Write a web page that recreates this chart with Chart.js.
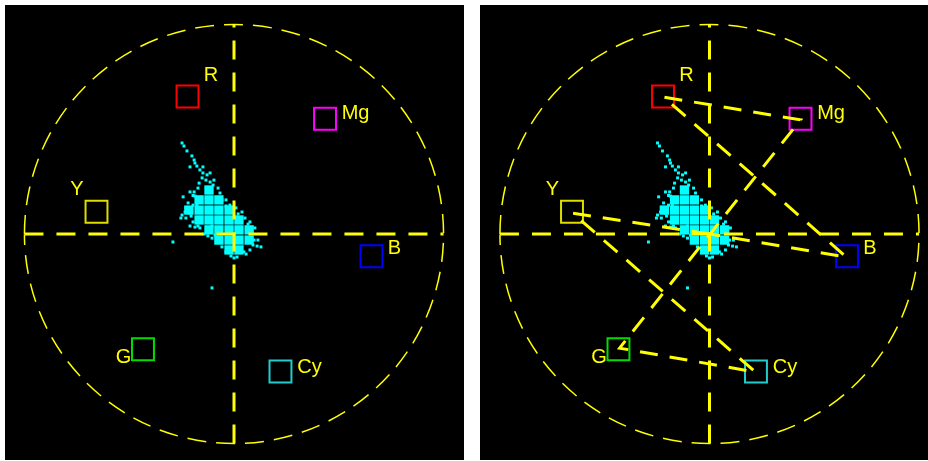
<!DOCTYPE html>
<html>
<head>
<meta charset="utf-8">
<script src="https://cdn.jsdelivr.net/npm/chart.js@4.4.1/dist/chart.umd.min.js"></script>
<style>
    html, body { margin: 0; padding: 0; background: #fff; }
    .panel { position: absolute; top: 5px; height: 455px; background: #000; }
    #left { left: 5px; width: 459px; }
    #right { left: 480px; width: 448px; }
</style>
</head>
<body>
<div class="panel" id="left"><canvas id="scopeA"></canvas></div>
<div class="panel" id="right"><canvas id="scopeB"></canvas></div>
<script>
// colour targets (Cb, Cr)
const targetNames = ["R", "Mg", "B", "Cy", "G", "Y"];
const targetCb = [-0.169, 0.331, 0.5, 0.169, -0.331, -0.5];
const targetCr = [0.5, 0.419, -0.081, -0.5, -0.419, 0.081];

// colour bar trace: W -> Y -> Cy -> G -> Mg -> R -> B -> Bk
const traceNames = ["W", "Y", "Cy", "G", "Mg", "R", "B", "Bk"];
const traceCb = [0, -0.498, 0.167, -0.327, 0.331, -0.167, 0.498, 0];
const traceCr = [0, 0.076, -0.502, -0.415, 0.415, 0.498, -0.084, 0];

// dense part of the pixel cloud
const cellCb = [-0.091, -0.127, -0.091, -0.055, -0.164, -0.127, -0.091, -0.055, -0.018,
    -0.127, -0.091, -0.055, -0.018, 0.018,
    -0.091, -0.055, -0.018, 0.018, 0.055,
    -0.055, -0.018, 0.018, 0.055,
    -0.018, 0.018];
const cellCr = [0.160, 0.124, 0.124, 0.124, 0.087, 0.087, 0.087, 0.087, 0.087,
    0.051, 0.051, 0.051, 0.051, 0.051,
    0.015, 0.015, 0.015, 0.015, 0.015,
    -0.022, -0.022, -0.022, -0.022,
    -0.058, -0.058];

// loose pixels around it
const dotCb = [-0.189, -0.182, -0.171, -0.153, -0.145, -0.142, -0.135, -0.160, -0.124, -0.113,
    -0.113, -0.098, -0.087, -0.116, -0.102, -0.087, -0.127, -0.076,
    -0.185, -0.160, -0.145, -0.167, -0.175, -0.189, -0.193, -0.178, -0.160, -0.142, -0.124, -0.222,
    -0.051, -0.044, -0.029, -0.007, 0.015, 0.040, 0.051, 0.065, 0.073, 0.084, 0.098, 0.058,
    0, -0.011, 0.011, -0.029, 0.036, -0.080, -0.069, -0.080,
    -0.156, -0.135, -0.135, -0.149,
    -0.149, -0.160, -0.175, -0.149, -0.131, -0.109, -0.095, -0.080,
    -0.029, -0.015, 0.007, 0.029, 0.058, 0.076, 0.069, 0.044, -0.044,
    -0.058, -0.131, -0.142, -0.073, 0.087];
const dotCr = [0.331, 0.320, 0.302, 0.284, 0.269, 0.258, 0.247, 0.244, 0.233, 0.244,
    0.222, 0.215, 0.222, 0.204, 0.196, 0.189, 0.185, 0.178,
    0.135, 0.153, 0.153, 0.113, 0.095, 0.069, 0.058, 0.080, 0.029, 0.025, 0.022, -0.029,
    0.149, 0.124, 0.102, 0.080, 0.073, 0.058, 0.036, 0.007, -0.022, -0.044, -0.047, -0.058,
    -0.087, -0.080, -0.084, -0.065, -0.065, -0.196, -0.004, 0.029,
    0.065, 0.124, 0.107, 0.140,
    0.105, 0.076, 0.058, 0.044, 0.029, 0, -0.007, -0.015,
    0.124, 0.105, 0.095, 0.080, 0.044, 0.022, -0.040, -0.073, -0.047,
    0.167, 0.167, 0.138, 0.196, -0.022];

const GRAT_R = 0.762;        // graticule circle radius
const PX_PER_UNIT = 275;
const YELLOW = "#ffff00";
const CYAN = "#00ffff";
const boxColors = ["#ff0000", "#ff00ff", "#0000ff", "#22cccc", "#00dd00", "#dddd00"];
// label position relative to its box (px), baseline
const labelOffsets = [[23.5, -16], [30.5, 0], [23, -2], [29, 1], [-19.5, 14], [-19.5, -17]];

function toPoints(xs, ys) {
    return xs.map((x, i) => ({ x: x, y: ys[i] }));
}

const scopePlugin = {
    id: "scope",
    afterDatasetsDraw(chart) {
        const ctx = chart.ctx;
        const xs = chart.scales.x, ys = chart.scales.y;
        const cx = xs.getPixelForValue(0), cy = ys.getPixelForValue(0);
        const r = xs.getPixelForValue(GRAT_R) - cx;

        ctx.save();
        ctx.strokeStyle = YELLOW;

        // dashed circle
        ctx.lineWidth = 1.5;
        ctx.setLineDash([19, 10]);
        ctx.beginPath();
        ctx.arc(cx, cy, r, Math.PI, 3 * Math.PI);
        ctx.stroke();

        // cross
        ctx.lineWidth = 3;
        ctx.setLineDash([19, 13]);
        ctx.beginPath();
        ctx.moveTo(cx - r, cy);
        ctx.lineTo(cx + r, cy);
        ctx.stroke();
        ctx.beginPath();
        ctx.moveTo(cx, cy + r);
        ctx.lineTo(cx, cy - r);
        ctx.stroke();

        // target labels
        ctx.setLineDash([]);
        ctx.fillStyle = YELLOW;
        ctx.font = '20px "Liberation Sans", Arial, sans-serif';
        ctx.textAlign = "center";
        ctx.textBaseline = "alphabetic";
        targetNames.forEach((name, i) => {
            const px = xs.getPixelForValue(targetCb[i]) + labelOffsets[i][0];
            const py = ys.getPixelForValue(targetCr[i]) + labelOffsets[i][1];
            ctx.fillText(name, px, py);
        });
        ctx.restore();
    }
};

function makeScope(selector, width, height, centerX, centerY, withTrace) {
    const datasets = [];

    if (withTrace) {
        datasets.push({
            data: toPoints(traceCb, traceCr),
            showLine: true,
            borderColor: YELLOW,
            borderWidth: 3,
            borderDash: [18, 12],
            pointRadius: 0,
            tension: 0,
            fill: false,
            order: 0
        });
    }

    datasets.push({
        data: toPoints(targetCb, targetCr),
        pointStyle: "rect",
        pointRadius: 15.5,
        borderWidth: 2,
        borderColor: boxColors,
        backgroundColor: "rgba(0,0,0,0)",
        order: 1
    });

    datasets.push({
        data: toPoints(cellCb, cellCr),
        pointStyle: "rect",
        pointRadius: 6.6,
        borderWidth: 0,
        backgroundColor: CYAN,
        order: 2
    });

    datasets.push({
        data: toPoints(dotCb, dotCr),
        pointStyle: "rect",
        pointRadius: 2.1,
        borderWidth: 0,
        backgroundColor: CYAN,
        order: 3
    });

    return new Chart(document.querySelector(selector), {
        type: "scatter",
        data: { datasets: datasets },
        options: {
            responsive: true,
            maintainAspectRatio: false,
            animation: false,
            events: [],
            layout: { padding: 0, autoPadding: false },
            plugins: { legend: { display: false }, tooltip: { enabled: false } },
            scales: {
                x: {
                    type: "linear", display: false,
                    min: -centerX / PX_PER_UNIT, max: (width - centerX) / PX_PER_UNIT
                },
                y: {
                    type: "linear", display: false,
                    min: -(height - centerY) / PX_PER_UNIT, max: centerY / PX_PER_UNIT
                }
            }
        },
        plugins: [scopePlugin]
    });
}

makeScope("#scopeA", 459, 455, 229, 229, false);
makeScope("#scopeB", 448, 455, 229.5, 229, true);
</script>
</body>
</html>
